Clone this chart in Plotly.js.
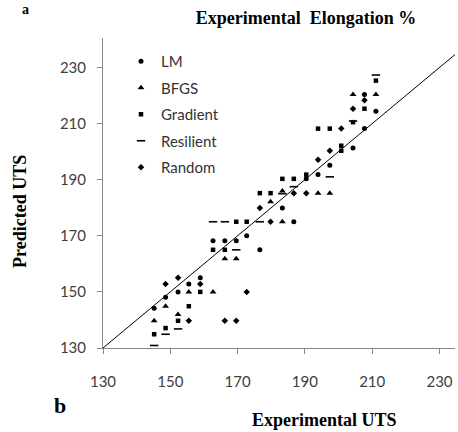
<!DOCTYPE html>
<html><head><meta charset="utf-8">
<script src="https://cdn.plot.ly/plotly-3.0.1.min.js"></script>
<style>html,body{margin:0;padding:0;background:#fff}#chart{width:458px;height:432px}</style>
</head><body><div id="chart"></div>
<script>
// Experimental UTS (x) vs predicted UTS (y) for each training algorithm
const lmX = [145.2,148.6,152.3,155.5,158.9,162.7,166.2,169.6,172.7,176.6,183.3,186.7,190.4,193.9,197.4,204.3,207.7,207.7,211.1];
const lmY = [144.2,148.1,150.0,152.8,155.0,168.2,168.2,168.2,170.0,165.0,179.9,175.0,190.3,191.8,195.1,201.3,208.2,220.4,214.4];

const bfgsX = [145.2,148.6,152.3,155.5,162.7,166.2,169.6,179.8,183.3,183.3,193.9,197.4,204.3,211.1];
const bfgsY = [139.7,144.9,141.9,150.0,150.0,161.8,161.8,182.1,175.0,186.0,185.2,185.2,220.4,220.4];

const gradX = [145.2,148.6,152.3,155.5,158.9,162.7,166.2,169.6,172.7,176.6,179.8,183.3,186.7,190.4,193.9,197.4,200.8,200.8,204.3,207.7,211.1];
const gradY = [134.9,137.1,139.7,144.9,150.0,165.0,165.0,175.0,175.0,185.2,185.2,190.3,190.3,191.8,208.2,208.2,202.1,200.3,210.5,215.3,225.3];

const resX = [145.2,148.6,152.3,162.7,166.2,169.6,176.6,183.3,186.7,197.4,204.3,211.1];
const resY = [130.9,134.9,136.8,175.0,175.0,165.0,175.0,185.0,187.5,191.0,210.9,227.3];

const randX = [148.6,152.3,155.5,158.9,166.2,169.6,172.7,176.6,179.8,186.7,190.4,193.9,197.4,200.8,204.3,207.7];
const randY = [152.8,155.0,139.7,152.8,139.7,139.7,150.0,179.9,175.0,185.2,185.2,197.1,200.3,208.2,215.3,218.3];

const lineX = [130, 234.6];
const lineY = [130, 234.6];

const tickVals = [130,150,170,190,210,230];
const seriesNames = ["LM","BFGS","Gradient","Resilient","Random"];

const black = "#000000";
function pts(x, y, name, symbol, size, lw) {
  return {
    type: "scatter", mode: "markers", x: x, y: y, name: name, legendgroup: name,
    marker: {symbol: symbol, size: size, color: black, line: {width: lw || 0, color: black}},
    cliponaxis: false
  };
}
const data = [
  {type:"scatter", mode:"lines", x: lineX, y: lineY, showlegend:false, line:{color:black, width:1}, hoverinfo:"skip"},
  pts(lmX, lmY, seriesNames[0], "circle", 5),
  pts(bfgsX, bfgsY, seriesNames[1], "triangle-up", 6),
  pts(gradX, gradY, seriesNames[2], "square", 4.5),
  pts(resX, resY, seriesNames[3], "line-ew", 6, 1.6),
  pts(randX, randY, seriesNames[4], "diamond", 5)
];

const serif = "Liberation Serif, Times New Roman, serif";
const sans = "Lato, Carlito, Calibri, sans-serif";
const axisCommon = {
  tickvals: tickVals, ticktext: tickVals.map(String),
  showgrid: false, zeroline: false, showline: true, linecolor: "#868686", linewidth: 1,
  ticks: "outside", ticklen: 5, tickcolor: "#868686", tickwidth: 1,
  tickfont: {family: sans, size: 15, color: "#404040"},
  automargin: false, fixedrange: true
};
const layout = {
  width: 458, height: 432,
  margin: {l: 103, r: 3, t: 38, b: 84, pad: 0},
  paper_bgcolor: "#fff", plot_bgcolor: "#fff",
  title: {text: "<b>Experimental  Elongation %</b>", font: {family: serif, size: 18, color: "#000"},
          x: 306/458, xanchor: "center", y: 1 - 18/432, yanchor: "middle", xref: "container", yref: "container"},
  xaxis: Object.assign({}, axisCommon, {range: [130, 234.6], ticklabelstandoff: 15,
          title: {text: ""}}),
  yaxis: Object.assign({}, axisCommon, {range: [130, 240.5], ticklabelstandoff: 8,
          title: {text: ""}}),
  showlegend: true,
  legend: {x: (121-103)/352, xanchor: "left", y: (348-45)/310, yanchor: "top",
           bgcolor: "rgba(0,0,0,0)", font: {family: sans, size: 15, color: "#333"},
           tracegroupgap: 4, itemsizing: "trace"},
  annotations: [
    {text: "<b>Experimental UTS</b>", xref: "paper", yref: "paper", x: (324-103)/352, y: (348-420)/310,
     xanchor: "center", yanchor: "middle", showarrow: false, font: {family: serif, size: 18, color: "#000"}},
    {text: "<b>Predicted UTS</b>", xref: "paper", yref: "paper", x: (20-103)/352, y: (348-212)/310,
     xanchor: "center", yanchor: "middle", textangle: -90, showarrow: false, font: {family: serif, size: 18, color: "#000"}},
    {text: "<b>b</b>", xref: "paper", yref: "paper", x: (60-103)/352, y: (348-405)/310,
     xanchor: "center", yanchor: "middle", showarrow: false, font: {family: serif, size: 22, color: "#000"}},
    {text: "<b>a</b>", xref: "paper", yref: "paper", x: (25-103)/352, y: (348-9)/310,
     xanchor: "center", yanchor: "middle", showarrow: false, font: {family: serif, size: 14, color: "#000"}}
  ]
};
Plotly.newPlot("chart", data, layout, {displayModeBar: false, staticPlot: true});
</script></body></html>
